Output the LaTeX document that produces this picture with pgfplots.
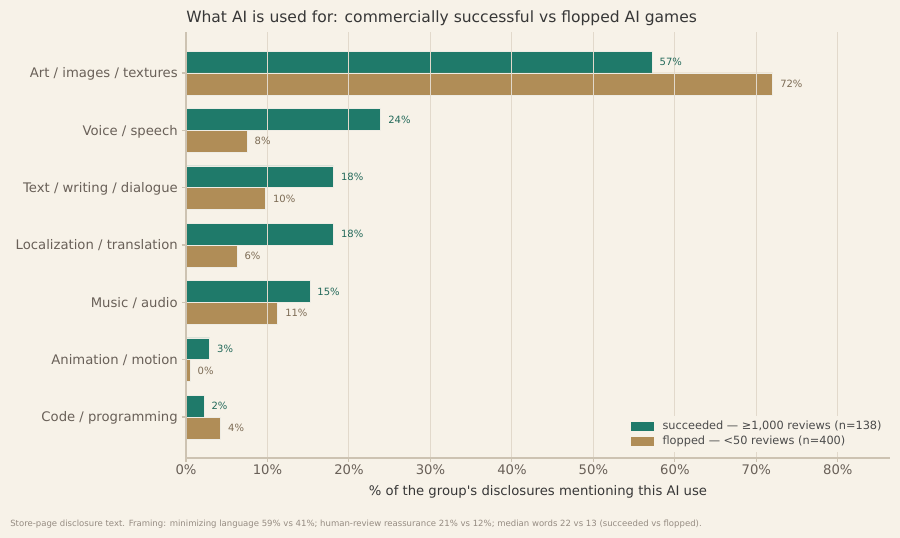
\documentclass[border=0pt]{standalone}
\usepackage{pgfplots}
\pgfplotsset{compat=1.18}
\usepackage{fontspec}
\setmainfont{DejaVu Sans}
\definecolor{bg}{RGB}{247,242,232}
\definecolor{teal}{RGB}{31,122,106}
\definecolor{brown}{RGB}{176,141,87}
\definecolor{labteal}{RGB}{35,105,90}
\definecolor{labbrown}{RGB}{125,108,85}
\definecolor{ticktext}{RGB}{105,96,88}
\definecolor{titletext}{RGB}{55,55,55}
\definecolor{spine}{RGB}{205,195,178}
\definecolor{gridc}{RGB}{226,217,203}
\definecolor{foot}{RGB}{150,140,130}
\definecolor{baredge}{RGB}{238,236,228}
\begin{document}
\begin{tikzpicture}[x=1pt,y=1pt]
\fill[bg] (0,0) rectangle (675,403.5);
\path[use as bounding box] (0,0) rectangle (675,403.5);
\begin{axis}[
  at={(139.5pt,60pt)}, anchor=south west,
  width=528pt, height=319.5pt, scale only axis,
  xmin=0, xmax=86.4, ymin=-0.715, ymax=6.715, y dir=reverse,
  xbar, bar width=0.38,
  axis x line*=bottom, axis y line*=left,
  axis line style={spine, line width=0.8pt},
  tick style={spine, line width=0.8pt},
  tick align=outside, major tick length=3pt,
  xtick={0,10,...,80},
  xticklabels={0\%,10\%,20\%,30\%,40\%,50\%,60\%,70\%,80\%},
  ytick={0,...,6},
  yticklabels={Art / images / textures, Voice / speech, Text / writing / dialogue, Localization / translation, Music / audio, Animation / motion, Code / programming},
  ticklabel style={font=\fontsize{9.9}{12}\selectfont, text=ticktext},
  yticklabel style={anchor=base east, inner sep=0pt, xshift=-3pt, yshift=-3.6pt},
  xticklabel style={anchor=north, inner sep=0pt, yshift=-2pt},
  xmajorgrids, ymajorgrids=false,
  major grid style={gridc, line width=0.8pt},
  axis on top,
  title={What AI is used for: commercially successful vs flopped AI games},
  title style={at={(0,1)}, anchor=base west, inner sep=0pt, yshift=1pt, font=\fontsize{11.65}{14}\selectfont, text=titletext},
  xlabel={\% of the group\textquotesingle s disclosures mentioning this AI use},
  xlabel style={at={(0.5,0)}, anchor=base, inner sep=0pt, yshift=-28.3pt, font=\fontsize{9.9}{12}\selectfont, text=titletext},
  point meta=explicit symbolic,
  nodes near coords,
  nodes near coords style={anchor=west, inner sep=0pt, xshift=5.5pt, font=\fontsize{7.5}{9}\selectfont},
  legend style={at={(0.997,0.013)}, anchor=south east, draw=none, fill=bg,
    font=\fontsize{8.5}{10}\selectfont, text=titletext!90,
    nodes={text height=6.8pt, text depth=1.9pt, inner sep=1.5pt},
    row sep=0pt, column sep=5pt},
  legend cell align=left,
]
\addplot[fill=teal, draw=baredge, line width=0.4pt, bar shift=-0.19,
  every node near coord/.append style={text=labteal},
  legend image code/.code={\fill[teal] (0pt,-3pt) rectangle (16.5pt,3pt);}]
  coordinates {(57.2,0) [57\%] (23.9,1) [24\%] (18.1,2) [18\%] (18.1,3) [18\%] (15.2,4) [15\%] (2.9,5) [3\%] (2.2,6) [2\%]};
\addlegendentry{succeeded — ≥1,000 reviews (n=138)}
\addplot[fill=brown, draw=baredge, line width=0.4pt, bar shift=0.19,
  every node near coord/.append style={text=labbrown},
  legend image code/.code={\fill[brown] (0pt,-3pt) rectangle (16.5pt,3pt);}]
  coordinates {(72.0,0) [72\%] (7.5,1) [8\%] (9.75,2) [10\%] (6.25,3) [6\%] (11.25,4) [11\%] (0.5,5) [0\%] (4.25,6) [4\%]};
\addlegendentry{flopped — <50 reviews (n=400)}
\end{axis}
\node[anchor=west, inner sep=0pt, font=\fontsize{6.4}{7.5}\selectfont, text=foot] at (7.5,10.5) {Store-page disclosure text. Framing: minimizing language 59\% vs 41\%; human-review reassurance 21\% vs 12\%; median words 22 vs 13 (succeeded vs flopped).};
\end{tikzpicture}
\end{document}
